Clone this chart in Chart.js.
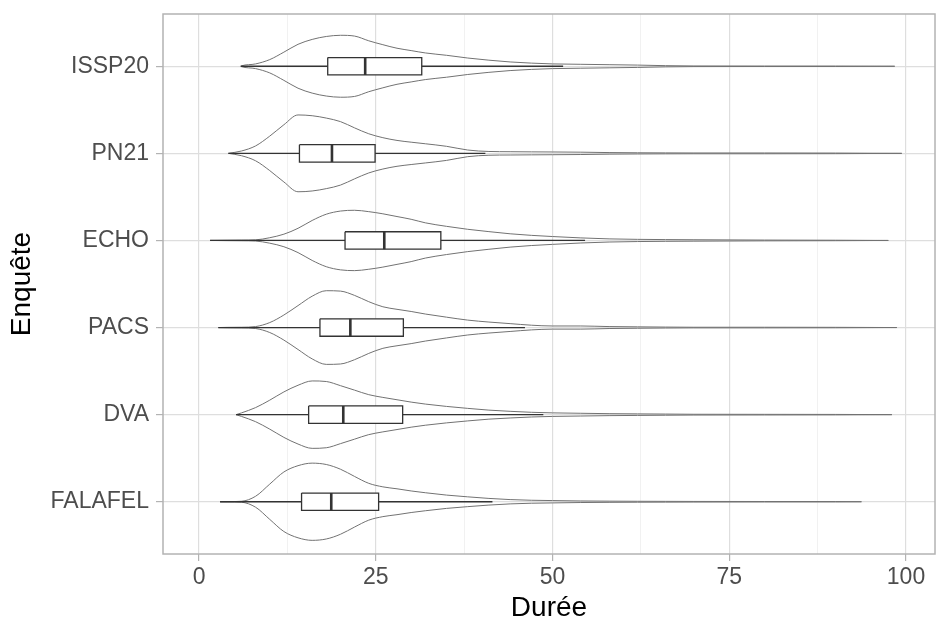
<!DOCTYPE html>
<html lang="fr">
<head>
<meta charset="utf-8">
<script src="https://cdn.jsdelivr.net/npm/chart.js@4.4.1/dist/chart.umd.min.js"></script>
<style>
  html, body { margin: 0; padding: 0; background: #fff; }
  canvas { display: block; }
</style>
</head>
<body>
<canvas id="violons" width="936" height="624"></canvas>
<script>
// enquêtes, de haut en bas
const enquetes = ['ISSP20', 'PN21', 'ECHO', 'PACS', 'DVA', 'FALAFEL'];

// graduations de l'axe des durées
const ticksDuree = [0, 25, 50, 75, 100];
const ticksMineurs = [12.5, 37.5, 62.5, 87.5];

// résumé des boîtes
const dureeMin      = [5.9, 4.15, 1.56, 2.73, 5.23, 2.97];
const q1            = [18.2, 14.2, 20.65, 17.1, 15.5, 14.5];
const mediane       = [23.5, 18.8, 26.2, 21.4, 20.4, 18.7];
const q3            = [31.5, 24.9, 34.2, 28.9, 28.8, 25.4];
const hautMoustache = [51.5, 40.5, 54.6, 46.1, 48.7, 41.5];
const dureeMax      = [98.4, 99.4, 97.5, 98.7, 98.0, 93.7];

// densités relatives (1 = violon le plus large), sur une grille commune
const grilleDuree = [4, 6, 8, 10, 12, 14, 16, 18, 20, 22, 24, 26, 28, 30, 32, 35, 38, 41, 44, 47, 50, 54, 58, 62, 66, 70, 80, 90];
const densiteISSP20  = [null, 0.01, 0.06, 0.17, 0.36, 0.56, 0.685, 0.76, 0.79, 0.77, 0.65, 0.55, 0.46, 0.40, 0.34, 0.28, 0.21, 0.155, 0.11, 0.08, 0.06, 0.05, 0.04, 0.03, 0.015, 0.008, 0.006, 0.006];
const densitePN21    = [null, 0.06, 0.19, 0.44, 0.73, 0.98, 0.96, 0.90, 0.81, 0.65, 0.50, 0.40, 0.33, 0.285, 0.245, 0.18, 0.085, 0.048, 0.042, 0.038, 0.035, 0.03, 0.02, 0.015, 0.012, 0.01, 0.01, 0.008];
const densiteECHO    = [0.005, 0.008, 0.015, 0.07, 0.16, 0.31, 0.51, 0.67, 0.75, 0.77, 0.735, 0.68, 0.61, 0.54, 0.45, 0.36, 0.285, 0.225, 0.17, 0.13, 0.10, 0.065, 0.04, 0.028, 0.022, 0.018, 0.01, 0.006];
const densitePACS    = [0.005, 0.008, 0.025, 0.127, 0.32, 0.56, 0.80, 0.94, 0.93, 0.82, 0.66, 0.53, 0.465, 0.41, 0.345, 0.265, 0.19, 0.14, 0.10, 0.06, 0.04, 0.04, 0.025, 0.018, 0.012, 0.008, 0.008, 0.006];
const densiteDVA     = [null, 0.045, 0.18, 0.37, 0.58, 0.75, 0.86, 0.845, 0.74, 0.625, 0.51, 0.44, 0.38, 0.32, 0.27, 0.21, 0.16, 0.115, 0.085, 0.06, 0.045, 0.035, 0.025, 0.02, 0.015, 0.01, 0.008, 0.006];
const densiteFALAFEL = [0.003, 0.012, 0.14, 0.45, 0.76, 0.92, 0.985, 0.95, 0.83, 0.645, 0.47, 0.38, 0.33, 0.275, 0.23, 0.17, 0.125, 0.085, 0.055, 0.038, 0.03, 0.02, 0.015, 0.012, 0.01, 0.008, 0.006, 0.005];

const densites = [densiteISSP20, densitePN21, densiteECHO, densitePACS, densiteDVA, densiteFALAFEL];

const DEMI_VIOLON = 0.45;  // width = 0.9
const DEMI_BOITE = 0.1;    // width = 0.2
const FONT = '"Liberation Sans", Arial, sans-serif';

const datasets = [];
enquetes.forEach((nom, i) => {
  const dens = densites[i];
  [-1, 1].forEach(signe => {
    const pts = [{ x: dureeMin[i], y: i }];
    grilleDuree.forEach((g, k) => {
      if (dens[k] !== null && g > dureeMin[i] && g < dureeMax[i]) {
        pts.push({ x: g, y: i + signe * DEMI_VIOLON * dens[k] });
      }
    });
    pts.push({ x: dureeMax[i], y: i });
    datasets.push({ data: pts, borderColor: '#727272', borderWidth: 1, cubicInterpolationMode: 'monotone', order: 3 });
  });
  // moustaches
  datasets.push({
    data: [{ x: dureeMin[i], y: i }, { x: hautMoustache[i], y: i }],
    borderColor: '#333', borderWidth: 1.3, order: 2
  });
  // boîte
  datasets.push({
    data: [
      { x: q1[i], y: i - DEMI_BOITE }, { x: q3[i], y: i - DEMI_BOITE },
      { x: q3[i], y: i + DEMI_BOITE }, { x: q1[i], y: i + DEMI_BOITE },
      { x: q1[i], y: i - DEMI_BOITE }
    ],
    borderColor: '#333', borderWidth: 1.3, fill: 'shape', backgroundColor: '#fff', order: 1
  });
  // médiane
  datasets.push({
    data: [{ x: mediane[i], y: i - DEMI_BOITE }, { x: mediane[i], y: i + DEMI_BOITE }],
    borderColor: '#333', borderWidth: 2.6, order: 0
  });
});

const cadre = {
  id: 'cadre',
  afterDraw(chart) {
    const { ctx, chartArea: a } = chart;
    ctx.save();
    ctx.strokeStyle = '#b3b3b3';
    ctx.lineWidth = 1.5;
    ctx.strokeRect(a.left, a.top, a.right - a.left, a.bottom - a.top);
    ctx.restore();
  }
};

const estMajeur = v => ticksDuree.includes(v);

new Chart(document.getElementById('violons'), {
  type: 'line',
  data: { datasets },
  plugins: [cadre],
  options: {
    responsive: false,
    animation: false,
    devicePixelRatio: 1,
    layout: { padding: { top: 14, right: 1, left: 0, bottom: 0 } },
    elements: { point: { radius: 0, hoverRadius: 0 }, line: { tension: 0, fill: false } },
    plugins: { legend: { display: false }, tooltip: { enabled: false } },
    scales: {
      x: {
        type: 'linear',
        min: -5.1,
        max: 104.1,
        afterBuildTicks: s => { s.ticks = ticksDuree.concat(ticksMineurs).sort((a, b) => a - b).map(v => ({ value: v })); },
        afterFit: s => { s.height = 70; s.paddingLeft = 0; s.paddingRight = 0; },
        grid: {
          color: c => estMajeur(c.tick.value) ? '#dedede' : '#ededed',
          lineWidth: c => estMajeur(c.tick.value) ? 1.2 : 0.8,
          tickColor: c => estMajeur(c.tick.value) ? '#b3b3b3' : 'rgba(0,0,0,0)',
          tickLength: 7,
          tickWidth: 1.2
        },
        border: { display: false },
        ticks: {
          autoSkip: false, maxRotation: 0, padding: 3,
          color: '#4d4d4d', font: { family: FONT, size: 23 },
          callback: v => estMajeur(v) ? String(v) : ''
        },
        title: {
          display: true, text: 'Durée', color: '#000',
          font: { family: FONT, size: 28, lineHeight: 1.1 },
          padding: { top: 0, bottom: 0 }
        }
      },
      y: {
        type: 'linear',
        min: -0.6,
        max: 5.6,
        reverse: true,
        afterBuildTicks: s => { s.ticks = enquetes.map((_, i) => ({ value: i })); },
        afterFit: s => { s.width = 163; s.paddingTop = 0; s.paddingBottom = 0; },
        grid: { color: '#dedede', lineWidth: 1.2, tickColor: '#b3b3b3', tickLength: 7, tickWidth: 1.2 },
        border: { display: false },
        ticks: {
          autoSkip: false, padding: 7,
          color: '#4d4d4d', font: { family: FONT, size: 23 },
          callback: v => enquetes[v]
        },
        title: {
          display: true, text: 'Enquête', color: '#000',
          font: { family: FONT, size: 28, lineHeight: 1.1 },
          padding: { top: 7, bottom: 0 }
        }
      }
    }
  }
});
</script>
</body>
</html>
